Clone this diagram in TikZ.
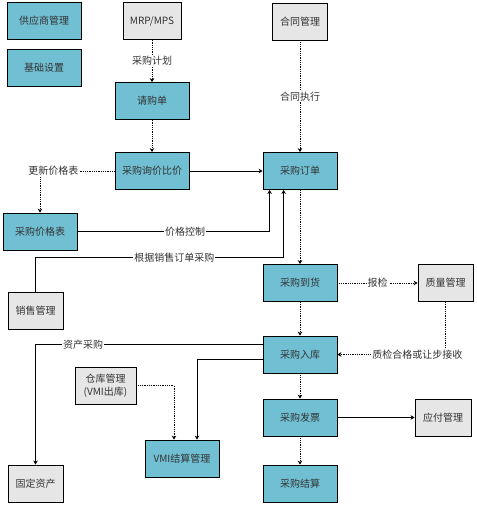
\documentclass[tikz,border=0pt]{standalone}
\usepackage{fontspec}
\setmainfont{Noto Sans CJK SC}
\usepackage{xcolor}
\usepackage{tikz}
\usetikzlibrary{positioning,arrows.meta}
\definecolor{flowblue}{HTML}{70BFD3}
\definecolor{extgray}{HTML}{E6E6E6}
\definecolor{inkgray}{HTML}{333333}

\begin{document}
\begin{tikzpicture}[x=1pt, y=-1pt,
  box/.style={draw=black, line width=0.8pt, align=center, font=\fontsize{10}{13}\selectfont, text=inkgray, minimum width=74pt, minimum height=37pt, inner sep=1pt, fill=#1},
  box/.default=flowblue,
  ext/.style={box=extgray, minimum width=55pt},
  lbl/.style={fill=white, inner sep=1pt, text=inkgray, font=\fontsize{10}{12}\selectfont},
  flow/.style={densely dotted, line width=0.8pt},
  link/.style={line width=0.8pt},
  >={Stealth[length=4pt,width=4.5pt]}]
\useasboundingbox (0,0) rectangle (476,505);
% left column
\node[box] (gys) at (44,21) {供应商管理};
\node[box] (jichu) at (44,68) {基础设置};
\node[box] (jiage) at (40,231.5) {采购价格表};
\node[ext] (xiaoshou) at (35.5,310.5) {销售管理};
\node[ext] (guding) at (35.5,483.5) {固定资产};
% middle
\node[ext, minimum width=58pt] (mrp) at (152,21) {MRP/MPS};
\node[box] (qinggou) at (152,101) {请购单};
\node[box] (xunjia) at (152,171) {采购询价比价};
\node[ext, minimum width=61pt] (cangku) at (105.5,385.5) {仓库管理\\(VMI出库)};
\node[box] (vmi) at (182,458.5) {VMI结算管理};
% main flow
\node[ext] (hetong) at (300,21.5) {合同管理};
\node[box] (dingdan) at (300,171) {采购订单};
\node[box] (daohuo) at (300,283) {采购到货};
\node[box] (ruku) at (300,354.5) {采购入库};
\node[box] (fapiao) at (300,417.5) {采购发票};
\node[box] (jiesuan) at (300,483.5) {采购结算};
% right
\node[ext] (zhiliang) at (445.5,283) {质量管理};
\node[ext, minimum width=56pt] (yingfu) at (443,417.5) {应付管理};

\draw[flow,->] (mrp) -- node[lbl]{采购计划} (qinggou);
\draw[flow,->] (hetong) -- node[lbl]{合同执行} (dingdan);
\foreach \a/\b in {qinggou/xunjia, dingdan/daohuo, daohuo/ruku, ruku/fapiao, fapiao/jiesuan}
  \draw[flow,->] (\a) -- (\b);
\draw[link,->] (xunjia) -- (dingdan);
\draw[flow,->] (xunjia.west) -| node[lbl,pos=0.41]{更新价格表} (jiage.north);
\draw[link,->] (jiage.east) -| node[lbl,pos=0.28]{价格控制} ([xshift=7pt]dingdan.south west);
\draw[link,->] (xiaoshou.north) -- ++(0,-34) -| node[lbl,pos=0.28]{根据销售订单采购} ([xshift=21pt]dingdan.south west);
\draw[flow,->] (daohuo) -- node[lbl]{报检} (zhiliang);
\draw[flow,->] (zhiliang.south) |- node[lbl,pos=0.63]{质检合格或让步接收} (ruku.east);
\draw[link,->] ([yshift=10pt]ruku.west) -| node[lbl,pos=0.395]{资产采购} (guding.north);
\draw[link,->] ([yshift=-5pt]ruku.west) -| ([xshift=15pt]vmi.north);
\draw[flow,->] (cangku.east) -| ([xshift=-8pt]vmi.north);
\draw[link,->] (fapiao) -- (yingfu);
\end{tikzpicture}
\end{document}
